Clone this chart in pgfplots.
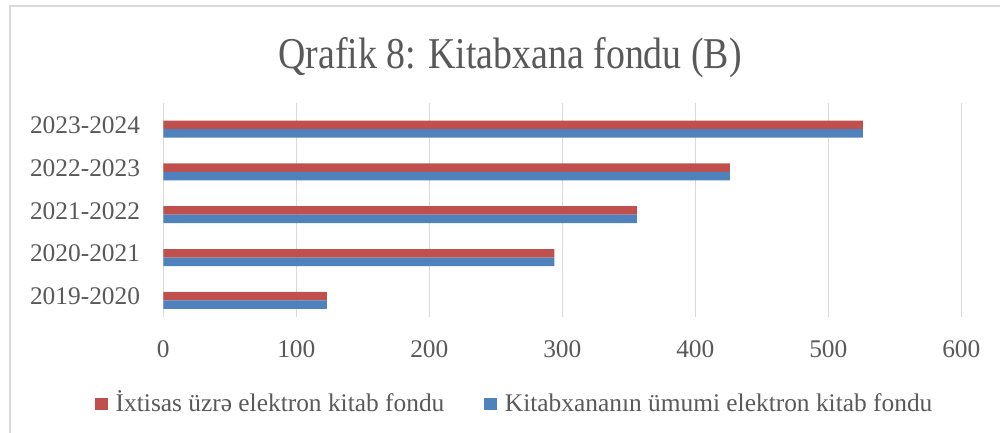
\documentclass[border=0pt]{standalone}
\usepackage{pgfplots}
\pgfplotsset{compat=1.18}
\usepackage{fontspec}
\setmainfont{Liberation Serif}
\newfontfamily\titlefont[FakeStretch=0.86]{Liberation Serif}
\definecolor{sred}{HTML}{C0504D}
\definecolor{sblue}{HTML}{4F81BD}
\definecolor{txt}{HTML}{595959}
\definecolor{grd}{HTML}{D9D9D9}
\begin{document}
\begin{tikzpicture}[x=1pt,y=1pt]
\useasboundingbox (0,0) rectangle (1000,433);
\draw[grd, line width=1.5pt] (10,-5) -- (10,427) -- (1005,427);
\node[anchor=base, text=txt, font=\titlefont\fontsize{44}{48}\selectfont, inner sep=0pt] at (510,364) {Qrafik 8: Kitabxana fondu (B)};
\begin{axis}[
  at={(163.3pt,116pt)}, anchor=south west,
  scale only axis, width=798pt, height=214pt,
  xbar, bar width=8.5pt,
  xmin=0, xmax=600, ymin=-0.39, ymax=4.61,
  xtick={0,100,...,600},
  ytick={0,1,2,3,4},
  yticklabels={2019-2020,2020-2021,2021-2022,2022-2023,2023-2024},
  /pgf/number format/assume math mode=true,
  axis line style={draw=none},
  major tick length=0pt,
  xmajorgrids, grid style={grd, line width=1.5pt},
  tick label style={text=txt, font=\fontsize{25.4}{28}\selectfont},
  yticklabel style={anchor=base east, inner sep=0pt, xshift=-23pt, yshift=-4.3pt},
  xticklabel style={anchor=base, inner sep=0pt, yshift=-41pt},
  legend columns=2,
  legend style={draw=none, fill=none, at={(-0.0893,-0.396)}, anchor=west,
    font=\fontsize{25.4}{28}\selectfont, text=txt,
    nodes={inner sep=0pt, anchor=base west}, column sep=8pt,
    /tikz/every even column/.append style={column sep=40pt}},
  legend image code/.code={\fill[#1] (0pt,1pt) rectangle (12.5pt,13.5pt);},
]
\addplot[fill=sred, draw=none, bar shift=4.25pt] coordinates {(123,0) (294,1) (356,2) (426,3) (526,4)};
\addplot[fill=sblue, draw=none, bar shift=-4.25pt] coordinates {(123,0) (294,1) (356,2) (426,3) (526,4)};
\legend{İxtisas üzrə elektron kitab fondu, Kitabxananın ümumi elektron kitab fondu}
\end{axis}
\end{tikzpicture}
\end{document}
